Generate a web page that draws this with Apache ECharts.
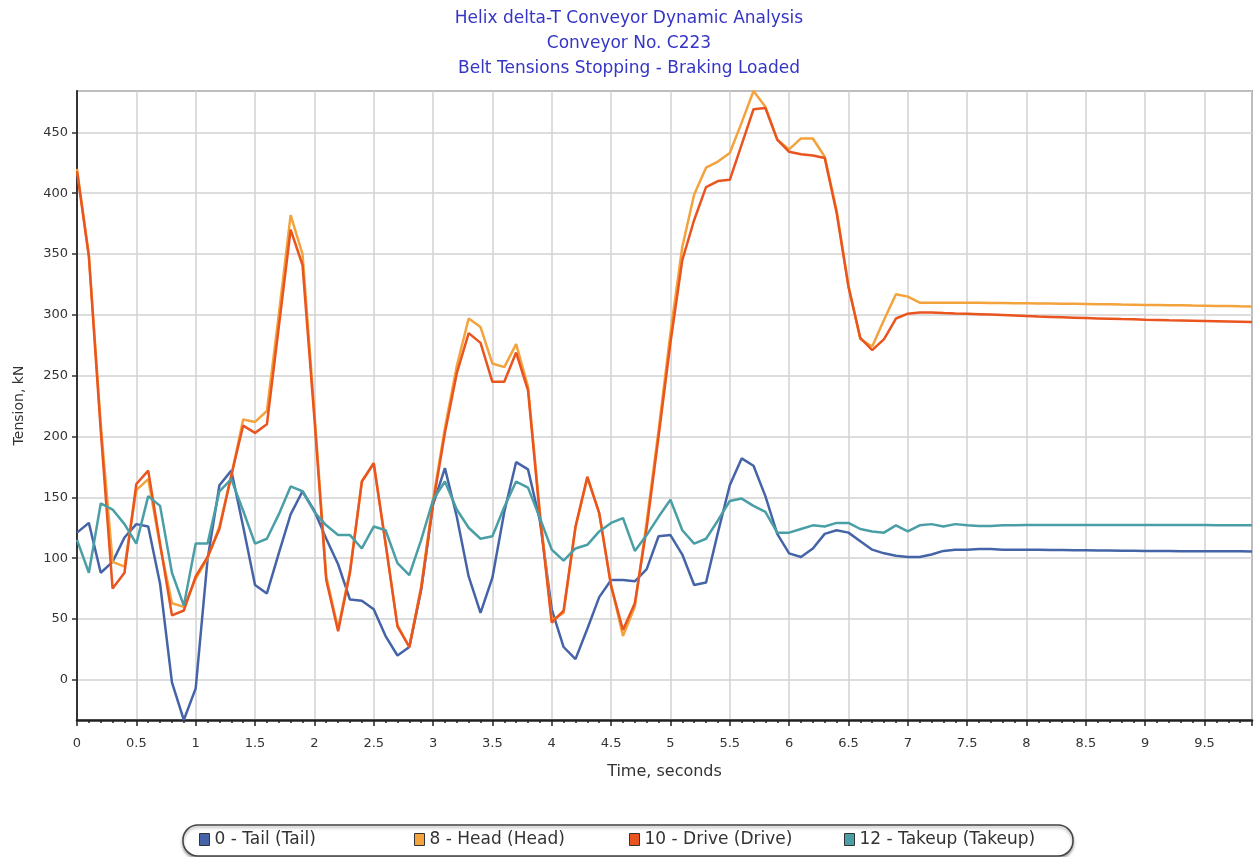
<!DOCTYPE html>
<html>
<head>
<meta charset="utf-8">
<title>Belt Tensions Stopping - Braking Loaded</title>
<script src="https://cdn.jsdelivr.net/npm/echarts@6/dist/echarts.min.js"></script>
<style>
  html, body { margin: 0; padding: 0; background: #ffffff; }
  #chart { width: 1258px; height: 857px; }
</style>
</head>
<body>
<div id="chart"></div>
<script>
// Sample step of the simulation output, seconds
const timeStep = 0.1;

// Belt tension at each sample, kN
const tail = [
  121, 129, 88, 97, 117, 128, 126, 79, -2, -33,
  -7, 99, 160, 172, 126, 78, 71, 104, 136, 155,
  139, 116, 95, 66, 65, 58, 36, 20, 27, 74,
  144, 174, 134, 85, 55, 84, 138, 179, 173, 131,
  58, 27, 17, 42, 68, 82, 82, 81, 91, 118,
  119, 103, 78, 80, 121, 160, 182, 176, 151, 120,
  104, 101, 108, 120, 123, 121, 114, 107, 104, 102,
  101, 101, 103, 106, 107, 107, 107.5, 107.5, 107, 107,
  107, 107, 106.8, 106.7, 106.6, 106.5, 106.4, 106.3, 106.2, 106.1,
  106, 106, 105.9, 105.8, 105.8, 105.7, 105.7, 105.6, 105.6, 105.5
];
const head = [
  420, 349, 210, 97, 93, 156, 165, 110, 63, 60,
  83, 100, 126, 168, 214, 212, 221, 300, 382, 350,
  220, 85, 42, 90, 163, 178, 112, 45, 27, 77,
  148, 207, 258, 297, 290, 260, 257, 276, 241, 138,
  49, 55, 125, 166, 137, 78, 36, 60, 130, 205,
  285, 356, 399, 421, 426, 433, 458, 484, 471, 444,
  436, 445, 445, 430, 386, 324, 280, 274, 296, 317,
  315, 310, 310, 310, 310, 310, 310, 309.8, 309.7, 309.6,
  309.5, 309.4, 309.3, 309.2, 309.1, 309, 308.8, 308.7, 308.5, 308.4,
  308.2, 308.1, 307.9, 307.8, 307.6, 307.5, 307.3, 307.2, 307, 306.9
];
const drive = [
  418, 348, 205, 75, 88, 161, 172, 112, 53, 57,
  85, 101, 124, 168, 209, 203, 210, 290, 370, 341,
  215, 82, 40, 88, 163, 178, 112, 44, 27, 75,
  145, 203, 252, 285, 277, 245, 245, 269, 238, 135,
  47, 57, 126, 167, 137, 77, 41, 63, 125, 200,
  277, 345, 378, 405, 410, 411, 440, 469, 470, 444,
  434, 432, 431, 429, 384, 323, 281, 271, 280, 297,
  301, 302, 302, 301.5, 301.2, 301, 300.6, 300.2, 299.8, 299.4,
  299, 298.6, 298.3, 298, 297.7, 297.4, 297.1, 296.8, 296.5, 296.3,
  296, 295.8, 295.5, 295.3, 295.1, 294.9, 294.7, 294.5, 294.3, 294.1
];
const takeup = [
  115, 88, 145, 140, 128, 112, 151, 143, 88, 61,
  112, 112, 155, 165, 139, 112, 116, 136, 159, 155,
  138, 127, 119, 119, 108, 126, 123, 96, 86, 115,
  148, 163, 140, 125, 116, 118, 142, 163, 158, 133,
  107, 98, 108, 111, 122, 129, 133, 106, 119, 134,
  148, 123, 112, 116, 131, 147, 149, 143, 138, 121,
  121, 124, 127, 126, 129, 129, 124, 122, 121, 127,
  122, 127, 128, 126, 128, 127, 126.5, 126.5, 127, 127,
  127.2, 127.2, 127.2, 127.2, 127.2, 127.2, 127.2, 127.2, 127.2, 127.2,
  127.2, 127.2, 127.2, 127.2, 127.2, 127.2, 127.1, 127.1, 127.1, 127.1
];

const seriesNames = ['0 - Tail (Tail)', '8 - Head (Head)', '10 - Drive (Drive)', '12 - Takeup (Takeup)'];
const seriesColors = ['#4564a8', '#f3a23c', '#e9541f', '#4a9ea6'];
const seriesValues = [tail, head, drive, takeup];

const titleLines = ['Helix delta-T Conveyor Dynamic Analysis', 'Conveyor No. C223', 'Belt Tensions Stopping - Braking Loaded'];
const xAxisName = 'Time, seconds';
const yAxisName = 'Tension, kN';

const FONT = 'DejaVu Sans, Verdana, sans-serif';

// Legend strip layout: one entry per series, evenly spaced inside a rounded frame
const legendFrame = { x: 183, y: 825, width: 890, height: 31, r: 15 };
const legendFirstLeft = 199;
const legendStep = 215;

function toPairs(values) {
  return values.map((v, i) => [+(i * timeStep).toFixed(1), v]);
}

const chart = echarts.init(document.getElementById('chart'), null, { renderer: 'canvas' });

chart.setOption({
  animation: false,
  backgroundColor: '#ffffff',
  title: {
    text: titleLines.join('\n'),
    left: 'center',
    top: 6,
    padding: 0,
    textStyle: {
      color: '#3535c6',
      fontFamily: FONT,
      fontSize: 17,
      fontWeight: 'normal',
      lineHeight: 25
    }
  },
  graphic: [{
    type: 'rect',
    z: 1,
    shape: legendFrame,
    style: {
      fill: '#ffffff',
      stroke: '#444',
      lineWidth: 1.5,
      shadowColor: 'rgba(0,0,0,0.35)',
      shadowBlur: 3,
      shadowOffsetY: 2
    }
  }],
  grid: {
    left: 77,
    right: 6,
    top: 91,
    bottom: 137,
    show: true,
    borderColor: '#555',
    borderWidth: 1.5,
    containLabel: false
  },
  legend: seriesNames.map((name, k) => ({
    data: [name],
    left: legendFirstLeft + k * legendStep,
    top: 831,
    padding: 0,
    z: 10,
    icon: 'rect',
    itemWidth: 10,
    itemHeight: 12,
    itemStyle: { borderColor: '#333', borderWidth: 1 },
    textStyle: { color: '#333', fontFamily: FONT, fontSize: 17 }
  })),
  xAxis: {
    type: 'value',
    min: 0,
    max: 9.9,
    interval: 0.5,
    name: xAxisName,
    nameLocation: 'middle',
    nameGap: 44,
    nameTextStyle: { color: '#333', fontFamily: FONT, fontSize: 16 },
    axisLine: { show: true, onZero: false, lineStyle: { color: '#222', width: 2.5 } },
    axisTick: { show: true, length: 6, lineStyle: { color: '#222', width: 1.5 } },
    minorTick: { show: true, splitNumber: 5, length: 3, lineStyle: { color: '#222', width: 1.5 } },
    axisLabel: { color: '#333', fontFamily: FONT, fontSize: 13, margin: 17, showMaxLabel: false },
    splitLine: { show: true, lineStyle: { color: '#d2d2d2', width: 1.5 } }
  },
  yAxis: {
    type: 'value',
    min: -33,
    max: 484,
    splitNumber: 10,
    name: yAxisName,
    nameLocation: 'middle',
    nameRotate: 90,
    nameGap: 51,
    nameTextStyle: { color: '#333', fontFamily: FONT, fontSize: 14 },
    axisLine: { show: true, onZero: false, lineStyle: { color: '#333', width: 2 } },
    axisTick: { show: true, length: 5, lineStyle: { color: '#333', width: 1.5 } },
    axisLabel: { color: '#333', fontFamily: FONT, fontSize: 13, margin: 9, showMinLabel: false, showMaxLabel: false },
    splitLine: { show: true, lineStyle: { color: '#d2d2d2', width: 1.5 } }
  },
  series: seriesValues.map((values, k) => ({
    name: seriesNames[k],
    type: 'line',
    data: toPairs(values),
    showSymbol: false,
    symbol: 'none',
    color: seriesColors[k],
    lineStyle: { color: seriesColors[k], width: 2.5 },
    emphasis: { disabled: true },
    z: 2 + k
  }))
});
</script>
</body>
</html>
